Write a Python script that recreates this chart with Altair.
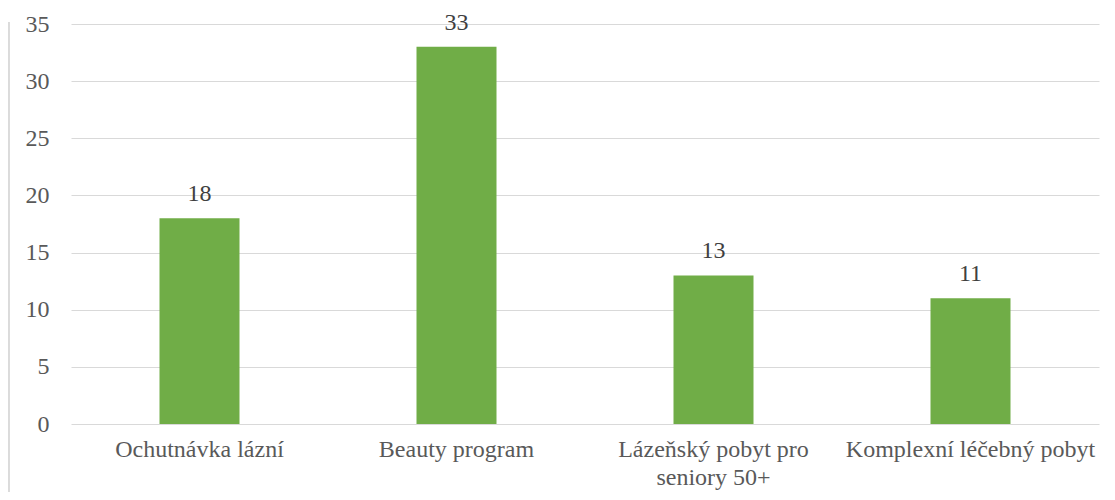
import altair as alt
import pandas as pd

categories = ["Ochutnávka lázní", "Beauty program", "Lázeňský pobyt pro seniory 50+", "Komplexní léčebný pobyt"]
values = [18, 33, 13, 11]

df = pd.DataFrame({"cat": categories, "val": values})

FONT = "Liberation Serif"
TXT = "#595959"
FS = 24

x = alt.X("cat:N", sort=categories, title=None,
          scale=alt.Scale(paddingInner=0, paddingOuter=0),
          axis=alt.Axis(labelAngle=0, labelFont=FONT, labelFontSize=FS, labelColor=TXT,
                        ticks=False, domain=False, labelPadding=13, labelLimit=400,
                        labelLineHeight=28,
                        labelExpr="datum.value == 'Lázeňský pobyt pro seniory 50+' ? ['Lázeňský pobyt pro', 'seniory 50+'] : datum.value"))
y = alt.Y("val:Q", title=None,
          scale=alt.Scale(domain=[0, 35], nice=False),
          axis=alt.Axis(values=[0, 5, 10, 15, 20, 25, 30, 35], labelFont=FONT, labelFontSize=FS,
                        labelColor=TXT, ticks=False, domain=False, labelPadding=22,
                        gridColor="#d9d9d9", gridWidth=1))

base = alt.Chart(df)
bars = base.mark_bar(color="#70ad47", size=80).encode(x=x, y=y)
labels = base.mark_text(font=FONT, fontSize=FS, color="#404040", baseline="alphabetic", dy=-17).encode(
    x=x, y=y, text="val:Q")
frame = base.mark_rule(color="#d9d9d9", strokeWidth=1).encode(
    x=alt.value(-62), y=alt.value(-2), y2=alt.value(480))

chart = alt.layer(bars, labels, frame).properties(
    width=1028, height=400,
    autosize=alt.AutoSizeParams(type="none"),
    padding={"left": 63, "top": 16, "right": 8, "bottom": 68},
).configure_view(stroke=None)

chart.save("out.html", embed_options={"renderer": "svg", "actions": False})
